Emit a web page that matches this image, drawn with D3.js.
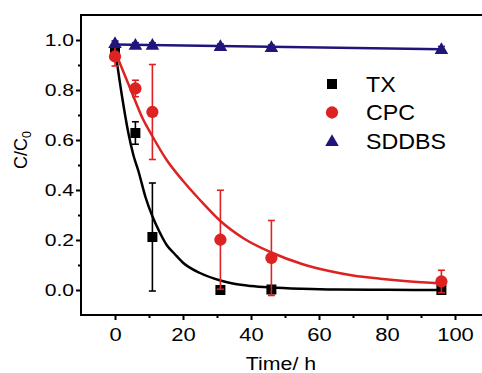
<!DOCTYPE html>
<html><head><meta charset="utf-8">
<script src="https://cdn.jsdelivr.net/npm/d3@7"></script>
<style>body{margin:0;background:#fff}svg{display:block}text{font-family:"Liberation Sans",Arial,sans-serif;fill:#000}</style>
</head><body><svg id="c" width="482" height="373"></svg>
<script>
// ---- data ----
const seriesNames = ["TX", "CPC", "SDDBS"];
const times = [0, 6, 11, 31, 46, 96];
const txValues = [0.96, 0.628, 0.212, 0.0, 0.002, 0.0];
const txErrors = [0.01, 0.045, 0.216, 0.005, 0.015, 0.0];
const cpcValues = [0.934, 0.806, 0.712, 0.201, 0.128, 0.034];
const cpcErrors = [0.038, 0.033, 0.19, 0.198, 0.15, 0.045];
const sddbsValues = [0.988, 0.981, 0.981, 0.976, 0.972, 0.964];
const sddbsErrors = [0.008, 0.008, 0.008, 0.008, 0.008, 0.01];
// fitted curves
const txFitT = [0, 2, 3.9, 5.4, 6.9, 9, 11, 13, 15.2, 17.5, 20.1, 25, 31, 35, 40, 46, 55, 65, 80, 96];
const txFitV = [0.965, 0.78, 0.63, 0.54, 0.475, 0.37, 0.295, 0.235, 0.18, 0.145, 0.108, 0.068, 0.038, 0.025, 0.016, 0.01, 0.005, 0.002, 0.001, 0.0];
const cpcFitT = [0, 3, 5.4, 8, 11, 15.2, 20.1, 25, 31, 38, 46, 55, 63, 70, 78, 86, 96];
const cpcFitV = [0.955, 0.855, 0.775, 0.69, 0.615, 0.52, 0.435, 0.36, 0.276, 0.205, 0.15, 0.104, 0.076, 0.058, 0.045, 0.035, 0.026];
const sddbsFitT = [0, 96];
const sddbsFitV = [0.982, 0.963];
const xTicks = [0, 20, 40, 60, 80, 100];
const xMinor = [10, 30, 50, 70, 90];
const yTicks = [0.0, 0.2, 0.4, 0.6, 0.8, 1.0];
const yMinor = [0.1, 0.3, 0.5, 0.7, 0.9];
const colors = ["#000000", "#dd2222", "#20157a"];

// ---- chart ----
const svg = d3.select("#c");
const x = d3.scaleLinear().domain([-10, 110]).range([81, 489]);
const y = d3.scaleLinear().domain([-0.1, 1.1]).range([315, 15]);

function stretch(sel, f) {
  sel.each(function () {
    const L = this.getComputedTextLength();
    this.setAttribute("textLength", L * f);
    this.setAttribute("lengthAdjust", "spacingAndGlyphs");
  });
}

// axes
const gy = svg.append("g").attr("transform", "translate(81,0)")
  .call(d3.axisLeft(y).tickValues(yTicks).tickSize(5).tickPadding(2).tickFormat(d3.format(".1f")));
const gyMinor = svg.append("g").attr("transform", "translate(81,0)")
  .call(d3.axisLeft(y).tickValues(yMinor).tickSize(3).tickFormat(""));
const gx = svg.append("g").attr("transform", "translate(0,315)")
  .call(d3.axisBottom(x).tickValues(xTicks).tickSize(5).tickPadding(8));
const gxMinor = svg.append("g").attr("transform", "translate(0,315)")
  .call(d3.axisBottom(x).tickValues(xMinor).tickSize(3).tickFormat(""));
[gy, gyMinor, gx, gxMinor].forEach(g => {
  g.select(".domain").remove();
  g.selectAll(".tick line").attr("stroke", "#000").attr("stroke-width", 2);
});
gy.selectAll("text").attr("font-size", 16.5).style("font-family", '"Liberation Sans",Arial,sans-serif');
gx.selectAll("text").attr("font-size", 18).style("font-family", '"Liberation Sans",Arial,sans-serif');
stretch(gy.selectAll("text"), 1.28);
stretch(gx.selectAll("text"), 1.22);

// frame
svg.append("rect").attr("x", x(-10)).attr("y", y(1.1))
  .attr("width", x(110) - x(-10)).attr("height", y(-0.1) - y(1.1))
  .attr("fill", "none").attr("stroke", "#000").attr("stroke-width", 2);

// titles
const yt = svg.append("text").attr("transform", "translate(27,150) rotate(-90)")
  .attr("text-anchor", "middle").attr("font-size", 18);
yt.append("tspan").text("C/C");
yt.append("tspan").attr("font-size", 12.5).attr("dy", 4).text("0");
const xt = svg.append("text").attr("x", 281).attr("y", 370).attr("text-anchor", "middle")
  .attr("font-size", 17.5).text("Time/ h");
stretch(xt, 1.22);

// series
const series = [
  { name: seriesNames[0], v: txValues, e: txErrors, ft: txFitT, fv: txFitV, c: colors[0], sym: d3.symbolSquare },
  { name: seriesNames[1], v: cpcValues, e: cpcErrors, ft: cpcFitT, fv: cpcFitV, c: colors[1], sym: d3.symbolCircle },
  { name: seriesNames[2], v: sddbsValues, e: sddbsErrors, ft: sddbsFitT, fv: sddbsFitV, c: colors[2], sym: d3.symbolTriangle }
];
function symPath(s) {
  const size = s === d3.symbolSquare ? 100 : s === d3.symbolCircle ? 118 : 80;
  return d3.symbol().type(s).size(size)();
}
const line = d3.line().x(d => x(d[0])).y(d => y(d[1])).curve(d3.curveMonotoneX);

series.forEach(s => {
  const g = svg.append("g");
  g.append("path").datum(s.ft.map((t, i) => [t, s.fv[i]]))
    .attr("d", line).attr("fill", "none").attr("stroke", s.c).attr("stroke-width", 2.5);
  const pts = times.map((t, i) => ({ t, v: s.v[i], e: s.e[i] }));
  const eb = g.selectAll(".eb").data(pts.filter(d => d.e > 0)).join("g").attr("stroke", s.c).attr("stroke-width", 1.6);
  eb.append("line").attr("x1", d => x(d.t)).attr("x2", d => x(d.t))
    .attr("y1", d => y(d.v - d.e)).attr("y2", d => y(d.v + d.e));
  eb.append("line").attr("x1", d => x(d.t) - 3.5).attr("x2", d => x(d.t) + 3.5)
    .attr("y1", d => y(d.v + d.e)).attr("y2", d => y(d.v + d.e));
  eb.append("line").attr("x1", d => x(d.t) - 3.5).attr("x2", d => x(d.t) + 3.5)
    .attr("y1", d => y(d.v - d.e)).attr("y2", d => y(d.v - d.e));
  g.selectAll(".m").data(pts).join("path")
    .attr("transform", d => `translate(${x(d.t)},${y(d.v) + (s.sym === d3.symbolTriangle ? 1 : 0)})`)
    .attr("d", symPath(s.sym)).attr("fill", s.c);
});

// legend
const legY = [84, 112.5, 141];
series.forEach((s, i) => {
  svg.append("path").attr("transform", `translate(332,${legY[i] + (s.sym === d3.symbolTriangle ? 1 : 0)})`)
    .attr("d", symPath(s.sym)).attr("fill", s.c);
  const t = svg.append("text").attr("x", 366).attr("y", legY[i] + 7.8).attr("font-size", 21.5).text(s.name);
  stretch(t, 1.08);
});
</script></body></html>
